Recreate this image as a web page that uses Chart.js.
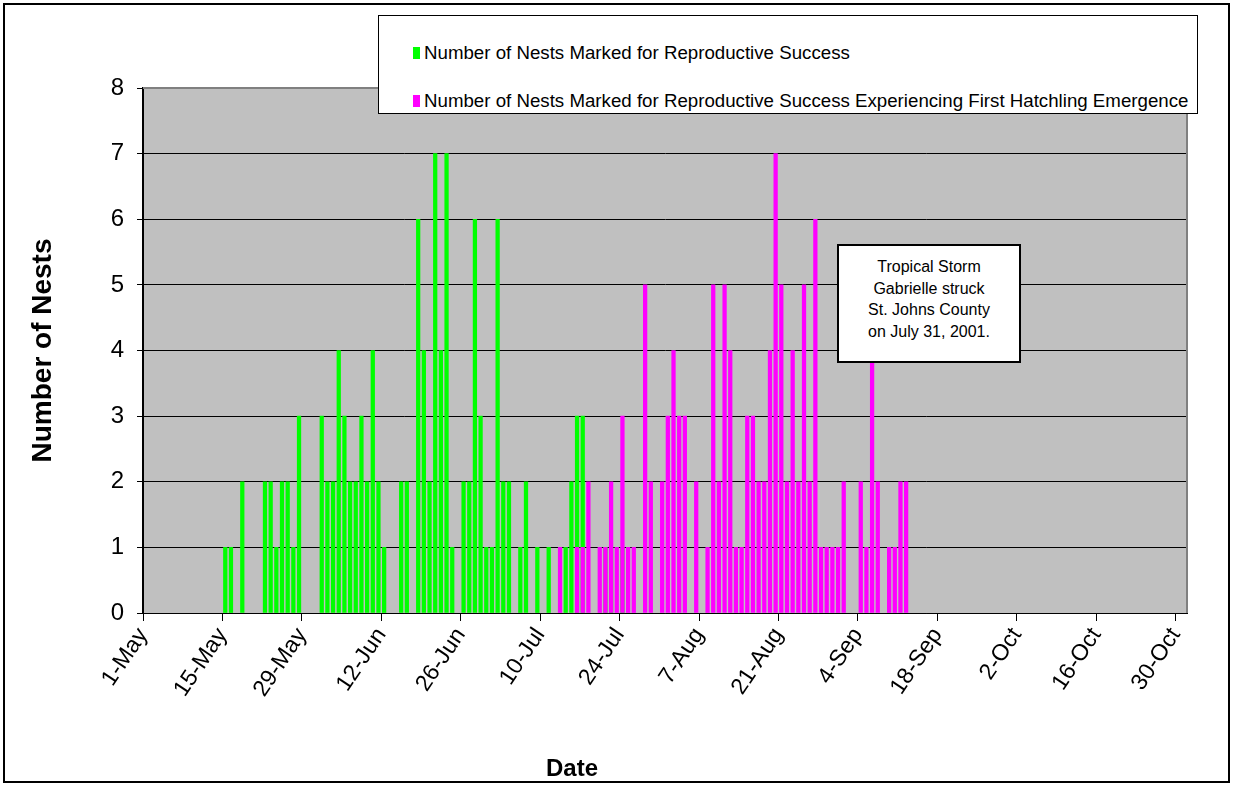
<!DOCTYPE html>
<html>
<head>
<meta charset="utf-8">
<title>Nests marked for reproductive success</title>
<script src="https://cdn.jsdelivr.net/npm/chart.js@4.4.1/dist/chart.umd.min.js"></script>
<style>
  body { margin: 0; background: #fff; }
  #wrap { position: relative; width: 1235px; height: 785px; font-family: 'Liberation Sans', Arial, sans-serif; }
  #nests { position: absolute; left: 0; top: 0; }
  .frame { position: absolute; left: 3px; top: 3px; width: 1227px; height: 780px; border: 2px solid #000; box-sizing: border-box; pointer-events: none; }
  .legend { position: absolute; left: 378px; top: 15px; width: 820px; height: 99px; border: 1px solid #000; background: #fff; box-sizing: border-box; }
  .legend .item { position: absolute; left: 34px; font-size: 18.7px; line-height: 20px; white-space: nowrap; color: #000; }
  .legend .sw { display: inline-block; width: 7px; height: 12px; margin-right: 4px; }
  .note { position: absolute; left: 837px; top: 244px; width: 184px; height: 119px; border: 2px solid #000; background: #fff; box-sizing: border-box;
          font-size: 16px; line-height: 21.5px; text-align: center; padding-top: 10px; color: #000; }
  .xtitle { position: absolute; left: 522px; top: 754px; width: 100px; text-align: center; font-weight: bold; font-size: 24px; color: #000; }
</style>
</head>
<body>
<div id="wrap">
  <canvas id="nests" width="1235" height="785"></canvas>
  <div class="frame"></div>
  <div class="legend">
    <div class="item" style="top:27px"><span class="sw" style="background:#00ff00"></span><span id="lg0"></span></div>
    <div class="item" style="top:75px"><span class="sw" style="background:#ff00ff"></span><span id="lg1"></span></div>
  </div>
  <div class="note">Tropical Storm<br>Gabrielle struck<br>St. Johns County<br>on July 31, 2001.</div>
  <div class="xtitle">Date</div>
</div>
<script>
// days counted from 1-May (0 = 1-May)
const tickLabels = ['1-May', '15-May', '29-May', '12-Jun', '26-Jun', '10-Jul', '24-Jul',
                    '7-Aug', '21-Aug', '4-Sep', '18-Sep', '2-Oct', '16-Oct', '30-Oct'];
const seriesNames = ['Number of Nests Marked for Reproductive Success',
                     'Number of Nests Marked for Reproductive Success Experiencing First Hatchling Emergence'];

// nests marked (green)
const markedDays  = [14, 15, 17, 21, 22, 23, 24, 25, 26, 27, 31, 32, 33, 34, 35, 36, 37, 38, 39, 40,
                     41, 42, 45, 46, 48, 49, 50, 51, 52, 53, 54, 56, 57, 58, 59, 60, 61, 62, 63, 64,
                     66, 67, 69, 71, 74, 75, 76, 77, 81, 82, 84];
const markedNests = [1, 1, 2, 2, 2, 1, 2, 2, 1, 3, 3, 2, 2, 4, 3, 2, 2, 3, 2, 4,
                     2, 1, 2, 2, 6, 4, 2, 7, 4, 7, 1, 2, 2, 6, 3, 1, 1, 6, 2, 2,
                     1, 2, 1, 1, 1, 2, 3, 3, 1, 1, 1];

// first hatchling emergence (magenta)
const hatchDays  = [73, 76, 77, 78, 80, 81, 82, 83, 84, 85, 86, 88, 89, 91, 92, 93, 94, 95, 97, 99,
                    100, 101, 102, 103, 104, 105, 106, 107, 108, 109, 110, 111, 112, 113, 114, 115, 116, 117, 118, 119,
                    120, 121, 122, 123, 126, 127, 128, 129, 131, 132, 133, 134];
const hatchNests = [1, 1, 1, 2, 1, 1, 2, 1, 3, 1, 1, 5, 2, 2, 3, 4, 3, 3, 2, 1,
                    5, 2, 5, 4, 1, 1, 3, 3, 2, 2, 4, 7, 5, 2, 4, 2, 5, 2, 6, 1,
                    1, 1, 1, 2, 2, 1, 4, 2, 1, 1, 2, 2];

const seasonDays = 184;
const tickDays = tickLabels.map((_, i) => i * 14);

document.getElementById('lg0').textContent = seriesNames[0];
document.getElementById('lg1').textContent = seriesNames[1];

Chart.defaults.font.family = "'Liberation Sans', Arial, sans-serif";
Chart.defaults.color = '#000';

const plotArea = {
  id: 'plotArea',
  beforeDraw(chart) {
    const { ctx, chartArea: a } = chart;
    ctx.save();
    ctx.fillStyle = '#c0c0c0';
    ctx.fillRect(a.left, a.top, a.right - a.left, a.bottom - a.top);
    ctx.restore();
  },
  afterDatasetsDraw(chart) {
    const { ctx, chartArea: a } = chart;
    ctx.save();
    ctx.strokeStyle = '#808080';
    ctx.lineWidth = 2;
    ctx.beginPath();
    ctx.moveTo(a.left, a.top);
    ctx.lineTo(a.right, a.top);
    ctx.lineTo(a.right, a.bottom);
    ctx.stroke();
    ctx.restore();
  }
};

const toPoints = (days, vals) => days.map((d, i) => ({ x: d + 0.5, y: vals[i] }));

new Chart(document.getElementById('nests'), {
  type: 'bar',
  data: {
    datasets: [
      {
        label: seriesNames[0],
        data: toPoints(markedDays, markedNests),
        backgroundColor: '#00ff00',
        barThickness: 3.6,
        grouped: false,
        order: 1
      },
      {
        label: seriesNames[1],
        data: toPoints(hatchDays, hatchNests),
        backgroundColor: '#ff00ff',
        barThickness: 3.6,
        grouped: false,
        order: 0
      }
    ]
  },
  options: {
    responsive: false,
    animation: false,
    layout: { padding: { top: 88, right: 48, left: 0, bottom: 0 } },
    plugins: { legend: { display: false }, tooltip: { enabled: false } },
    scales: {
      x: {
        type: 'linear',
        min: 0,
        max: seasonDays,
        offset: false,
        afterBuildTicks: (scale) => { scale.ticks = tickDays.map(v => ({ value: v })); },
        afterFit: (scale) => { scale.height = 172; },
        ticks: {
          autoSkip: false,
          minRotation: 56,
          maxRotation: 56,
          padding: 2,
          font: { size: 23 },
          callback: (v, i) => tickLabels[i]
        },
        grid: { drawOnChartArea: false, offset: false, tickLength: 8, color: '#000' },
        border: { color: '#000', width: 1 }
      },
      y: {
        min: 0,
        max: 8,
        afterFit: (scale) => { scale.width = 143; },
        ticks: { stepSize: 1, padding: 13, font: { size: 24 } },
        grid: { color: '#000', tickLength: 6 },
        border: { color: '#000', width: 2 },
        title: {
          display: true,
          text: 'Number of Nests',
          font: { size: 28, weight: 'bold' },
          padding: { top: 26 }
        }
      }
    }
  },
  plugins: [plotArea]
});
</script>
</body>
</html>
